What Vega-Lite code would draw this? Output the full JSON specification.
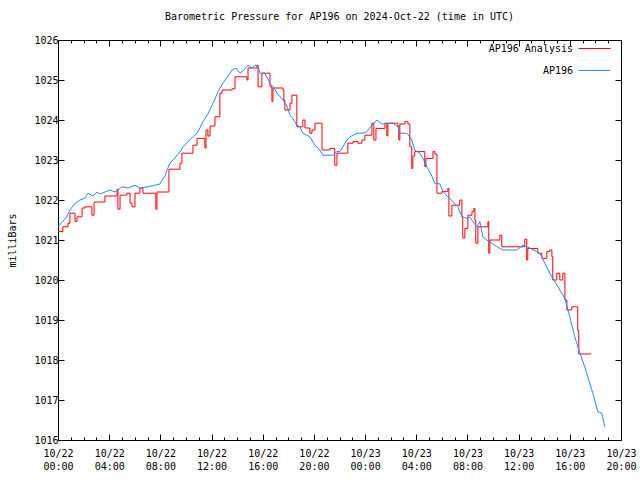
{
  "$schema": "https://vega.github.io/schema/vega-lite/v6.json",
  "width": 563,
  "height": 400,
  "autosize": {"type": "none"},
  "padding": {"left": 58, "top": 40, "right": 19, "bottom": 40},
  "background": "white",
  "title": {"text": "Barometric Pressure for AP196 on 2024-Oct-22 (time in UTC)", "font": "DejaVu Sans Mono", "fontSize": 10, "fontWeight": "normal", "color": "black", "anchor": "middle", "offset": 10},
  "datasets": {
    "analysis": [
      {"t": "2024-10-22T00:00:00Z", "mb": 1021.21},
      {"t": "2024-10-22T00:23:00Z", "mb": 1021.33},
      {"t": "2024-10-22T00:47:00Z", "mb": 1021.42},
      {"t": "2024-10-22T00:56:00Z", "mb": 1021.67},
      {"t": "2024-10-22T01:20:00Z", "mb": 1021.46},
      {"t": "2024-10-22T01:29:00Z", "mb": 1021.58},
      {"t": "2024-10-22T01:53:00Z", "mb": 1021.8},
      {"t": "2024-10-22T02:07:00Z", "mb": 1021.83},
      {"t": "2024-10-22T02:39:00Z", "mb": 1021.62},
      {"t": "2024-10-22T02:49:00Z", "mb": 1021.95},
      {"t": "2024-10-22T03:40:00Z", "mb": 1022.1},
      {"t": "2024-10-22T04:37:00Z", "mb": 1022.27},
      {"t": "2024-10-22T04:41:00Z", "mb": 1021.77},
      {"t": "2024-10-22T04:51:00Z", "mb": 1022.12},
      {"t": "2024-10-22T05:23:00Z", "mb": 1022.17},
      {"t": "2024-10-22T05:38:00Z", "mb": 1021.92},
      {"t": "2024-10-22T05:47:00Z", "mb": 1021.83},
      {"t": "2024-10-22T06:01:00Z", "mb": 1022.17},
      {"t": "2024-10-22T06:24:00Z", "mb": 1022.3},
      {"t": "2024-10-22T06:38:00Z", "mb": 1022.17},
      {"t": "2024-10-22T07:39:00Z", "mb": 1021.77},
      {"t": "2024-10-22T07:44:00Z", "mb": 1022.2},
      {"t": "2024-10-22T08:40:00Z", "mb": 1022.77},
      {"t": "2024-10-22T09:32:00Z", "mb": 1022.92},
      {"t": "2024-10-22T09:41:00Z", "mb": 1023.17},
      {"t": "2024-10-22T10:33:00Z", "mb": 1023.37},
      {"t": "2024-10-22T10:52:00Z", "mb": 1023.54},
      {"t": "2024-10-22T11:29:00Z", "mb": 1023.3},
      {"t": "2024-10-22T11:34:00Z", "mb": 1023.75},
      {"t": "2024-10-22T11:43:00Z", "mb": 1023.6},
      {"t": "2024-10-22T11:53:00Z", "mb": 1023.85},
      {"t": "2024-10-22T12:16:00Z", "mb": 1024.08},
      {"t": "2024-10-22T12:39:00Z", "mb": 1024.67},
      {"t": "2024-10-22T12:49:00Z", "mb": 1024.75},
      {"t": "2024-10-22T13:36:00Z", "mb": 1024.78},
      {"t": "2024-10-22T13:50:00Z", "mb": 1025.08},
      {"t": "2024-10-22T14:46:00Z", "mb": 1025.0},
      {"t": "2024-10-22T14:51:00Z", "mb": 1025.3},
      {"t": "2024-10-22T15:33:00Z", "mb": 1025.37},
      {"t": "2024-10-22T15:38:00Z", "mb": 1024.83},
      {"t": "2024-10-22T15:56:00Z", "mb": 1025.17},
      {"t": "2024-10-22T16:34:00Z", "mb": 1024.83},
      {"t": "2024-10-22T16:43:00Z", "mb": 1024.46},
      {"t": "2024-10-22T16:48:00Z", "mb": 1024.8},
      {"t": "2024-10-22T17:35:00Z", "mb": 1024.75},
      {"t": "2024-10-22T17:39:00Z", "mb": 1024.5},
      {"t": "2024-10-22T17:44:00Z", "mb": 1024.25},
      {"t": "2024-10-22T18:08:00Z", "mb": 1024.42},
      {"t": "2024-10-22T18:17:00Z", "mb": 1024.62},
      {"t": "2024-10-22T18:40:00Z", "mb": 1023.83},
      {"t": "2024-10-22T19:08:00Z", "mb": 1024.0},
      {"t": "2024-10-22T19:18:00Z", "mb": 1023.8},
      {"t": "2024-10-22T19:41:00Z", "mb": 1023.67},
      {"t": "2024-10-22T19:51:00Z", "mb": 1023.75},
      {"t": "2024-10-22T20:05:00Z", "mb": 1023.92},
      {"t": "2024-10-22T20:38:00Z", "mb": 1023.25},
      {"t": "2024-10-22T21:15:00Z", "mb": 1023.29},
      {"t": "2024-10-22T21:38:00Z", "mb": 1022.87},
      {"t": "2024-10-22T21:48:00Z", "mb": 1023.17},
      {"t": "2024-10-22T22:39:00Z", "mb": 1023.42},
      {"t": "2024-10-22T23:03:00Z", "mb": 1023.46},
      {"t": "2024-10-22T23:26:00Z", "mb": 1023.42},
      {"t": "2024-10-22T23:45:00Z", "mb": 1023.5},
      {"t": "2024-10-22T23:59:00Z", "mb": 1023.62},
      {"t": "2024-10-23T00:32:00Z", "mb": 1023.92},
      {"t": "2024-10-23T00:41:00Z", "mb": 1023.5},
      {"t": "2024-10-23T00:51:00Z", "mb": 1023.79},
      {"t": "2024-10-23T01:33:00Z", "mb": 1023.92},
      {"t": "2024-10-23T01:42:00Z", "mb": 1023.6},
      {"t": "2024-10-23T01:47:00Z", "mb": 1023.92},
      {"t": "2024-10-23T02:34:00Z", "mb": 1023.85},
      {"t": "2024-10-23T02:38:00Z", "mb": 1023.5},
      {"t": "2024-10-23T02:43:00Z", "mb": 1023.9},
      {"t": "2024-10-23T03:07:00Z", "mb": 1023.96},
      {"t": "2024-10-23T03:21:00Z", "mb": 1023.9},
      {"t": "2024-10-23T03:30:00Z", "mb": 1023.33},
      {"t": "2024-10-23T03:39:00Z", "mb": 1022.79},
      {"t": "2024-10-23T03:44:00Z", "mb": 1023.1},
      {"t": "2024-10-23T03:53:00Z", "mb": 1023.21},
      {"t": "2024-10-23T04:40:00Z", "mb": 1022.83},
      {"t": "2024-10-23T04:45:00Z", "mb": 1023.04},
      {"t": "2024-10-23T05:18:00Z", "mb": 1023.21},
      {"t": "2024-10-23T05:27:00Z", "mb": 1023.15},
      {"t": "2024-10-23T05:37:00Z", "mb": 1022.17},
      {"t": "2024-10-23T06:00:00Z", "mb": 1022.21},
      {"t": "2024-10-23T06:28:00Z", "mb": 1022.29},
      {"t": "2024-10-23T06:33:00Z", "mb": 1021.6},
      {"t": "2024-10-23T06:47:00Z", "mb": 1021.87},
      {"t": "2024-10-23T07:24:00Z", "mb": 1022.0},
      {"t": "2024-10-23T07:34:00Z", "mb": 1021.58},
      {"t": "2024-10-23T07:38:00Z", "mb": 1021.05},
      {"t": "2024-10-23T07:48:00Z", "mb": 1021.29},
      {"t": "2024-10-23T08:02:00Z", "mb": 1021.62},
      {"t": "2024-10-23T08:21:00Z", "mb": 1021.71},
      {"t": "2024-10-23T08:30:00Z", "mb": 1021.79},
      {"t": "2024-10-23T08:35:00Z", "mb": 1021.5},
      {"t": "2024-10-23T08:39:00Z", "mb": 1020.92},
      {"t": "2024-10-23T08:49:00Z", "mb": 1021.33},
      {"t": "2024-10-23T09:36:00Z", "mb": 1021.46},
      {"t": "2024-10-23T09:40:00Z", "mb": 1020.67},
      {"t": "2024-10-23T09:45:00Z", "mb": 1021.0},
      {"t": "2024-10-23T10:32:00Z", "mb": 1021.12},
      {"t": "2024-10-23T10:41:00Z", "mb": 1020.83},
      {"t": "2024-10-23T12:29:00Z", "mb": 1021.02},
      {"t": "2024-10-23T12:38:00Z", "mb": 1020.5},
      {"t": "2024-10-23T12:43:00Z", "mb": 1020.79},
      {"t": "2024-10-23T13:30:00Z", "mb": 1020.67},
      {"t": "2024-10-23T13:49:00Z", "mb": 1020.54},
      {"t": "2024-10-23T14:12:00Z", "mb": 1020.71},
      {"t": "2024-10-23T14:26:00Z", "mb": 1020.75},
      {"t": "2024-10-23T14:36:00Z", "mb": 1020.58},
      {"t": "2024-10-23T14:40:00Z", "mb": 1020.0},
      {"t": "2024-10-23T14:59:00Z", "mb": 1020.17},
      {"t": "2024-10-23T15:13:00Z", "mb": 1020.0},
      {"t": "2024-10-23T15:27:00Z", "mb": 1020.17},
      {"t": "2024-10-23T15:37:00Z", "mb": 1019.5},
      {"t": "2024-10-23T15:46:00Z", "mb": 1019.25},
      {"t": "2024-10-23T16:09:00Z", "mb": 1019.33},
      {"t": "2024-10-23T16:37:00Z", "mb": 1018.75},
      {"t": "2024-10-23T16:42:00Z", "mb": 1018.15},
      {"t": "2024-10-23T17:38:00Z", "mb": 1018.17}
    ],
    "obs": [
      {"t": "2024-10-22T00:00:00Z", "mb": 1021.33},
      {"t": "2024-10-22T00:19:00Z", "mb": 1021.45},
      {"t": "2024-10-22T00:38:00Z", "mb": 1021.55},
      {"t": "2024-10-22T00:56:00Z", "mb": 1021.75},
      {"t": "2024-10-22T01:20:00Z", "mb": 1021.92},
      {"t": "2024-10-22T01:43:00Z", "mb": 1022.0},
      {"t": "2024-10-22T02:07:00Z", "mb": 1022.05},
      {"t": "2024-10-22T02:21:00Z", "mb": 1022.17},
      {"t": "2024-10-22T02:44:00Z", "mb": 1022.1},
      {"t": "2024-10-22T03:03:00Z", "mb": 1022.2},
      {"t": "2024-10-22T03:17:00Z", "mb": 1022.15},
      {"t": "2024-10-22T03:40:00Z", "mb": 1022.2},
      {"t": "2024-10-22T04:04:00Z", "mb": 1022.25},
      {"t": "2024-10-22T04:27:00Z", "mb": 1022.2},
      {"t": "2024-10-22T05:00:00Z", "mb": 1022.33},
      {"t": "2024-10-22T05:28:00Z", "mb": 1022.3},
      {"t": "2024-10-22T06:01:00Z", "mb": 1022.37},
      {"t": "2024-10-22T06:24:00Z", "mb": 1022.3},
      {"t": "2024-10-22T07:02:00Z", "mb": 1022.33},
      {"t": "2024-10-22T07:35:00Z", "mb": 1022.37},
      {"t": "2024-10-22T07:58:00Z", "mb": 1022.4},
      {"t": "2024-10-22T08:08:00Z", "mb": 1022.5},
      {"t": "2024-10-22T08:22:00Z", "mb": 1022.6},
      {"t": "2024-10-22T08:31:00Z", "mb": 1022.75},
      {"t": "2024-10-22T08:45:00Z", "mb": 1022.92},
      {"t": "2024-10-22T09:08:00Z", "mb": 1023.05},
      {"t": "2024-10-22T09:32:00Z", "mb": 1023.2},
      {"t": "2024-10-22T09:46:00Z", "mb": 1023.33},
      {"t": "2024-10-22T10:09:00Z", "mb": 1023.45},
      {"t": "2024-10-22T10:33:00Z", "mb": 1023.58},
      {"t": "2024-10-22T10:56:00Z", "mb": 1023.7},
      {"t": "2024-10-22T11:20:00Z", "mb": 1023.96},
      {"t": "2024-10-22T11:43:00Z", "mb": 1024.15},
      {"t": "2024-10-22T12:07:00Z", "mb": 1024.42},
      {"t": "2024-10-22T12:30:00Z", "mb": 1024.7},
      {"t": "2024-10-22T12:53:00Z", "mb": 1024.92},
      {"t": "2024-10-22T13:17:00Z", "mb": 1025.1},
      {"t": "2024-10-22T13:36:00Z", "mb": 1025.25},
      {"t": "2024-10-22T13:54:00Z", "mb": 1025.3},
      {"t": "2024-10-22T14:13:00Z", "mb": 1025.17},
      {"t": "2024-10-22T14:32:00Z", "mb": 1025.25},
      {"t": "2024-10-22T14:51:00Z", "mb": 1025.37},
      {"t": "2024-10-22T15:09:00Z", "mb": 1025.3},
      {"t": "2024-10-22T15:23:00Z", "mb": 1025.37},
      {"t": "2024-10-22T15:38:00Z", "mb": 1025.35},
      {"t": "2024-10-22T15:47:00Z", "mb": 1025.17},
      {"t": "2024-10-22T16:10:00Z", "mb": 1025.17},
      {"t": "2024-10-22T16:34:00Z", "mb": 1024.92},
      {"t": "2024-10-22T16:53:00Z", "mb": 1024.8},
      {"t": "2024-10-22T17:07:00Z", "mb": 1024.67},
      {"t": "2024-10-22T17:35:00Z", "mb": 1024.5},
      {"t": "2024-10-22T17:53:00Z", "mb": 1024.35},
      {"t": "2024-10-22T18:08:00Z", "mb": 1024.12},
      {"t": "2024-10-22T18:26:00Z", "mb": 1024.0},
      {"t": "2024-10-22T18:40:00Z", "mb": 1023.87},
      {"t": "2024-10-22T18:54:00Z", "mb": 1023.83},
      {"t": "2024-10-22T19:08:00Z", "mb": 1023.67},
      {"t": "2024-10-22T19:41:00Z", "mb": 1023.58},
      {"t": "2024-10-22T20:05:00Z", "mb": 1023.37},
      {"t": "2024-10-22T20:28:00Z", "mb": 1023.25},
      {"t": "2024-10-22T20:42:00Z", "mb": 1023.12},
      {"t": "2024-10-22T21:06:00Z", "mb": 1023.12},
      {"t": "2024-10-22T21:29:00Z", "mb": 1023.12},
      {"t": "2024-10-22T21:48:00Z", "mb": 1023.21},
      {"t": "2024-10-22T22:02:00Z", "mb": 1023.21},
      {"t": "2024-10-22T22:16:00Z", "mb": 1023.33},
      {"t": "2024-10-22T22:35:00Z", "mb": 1023.5},
      {"t": "2024-10-22T22:49:00Z", "mb": 1023.58},
      {"t": "2024-10-22T23:22:00Z", "mb": 1023.67},
      {"t": "2024-10-22T23:50:00Z", "mb": 1023.67},
      {"t": "2024-10-23T00:08:00Z", "mb": 1023.71},
      {"t": "2024-10-23T00:32:00Z", "mb": 1023.87},
      {"t": "2024-10-23T00:55:00Z", "mb": 1024.0},
      {"t": "2024-10-23T01:19:00Z", "mb": 1023.9},
      {"t": "2024-10-23T01:42:00Z", "mb": 1023.92},
      {"t": "2024-10-23T02:10:00Z", "mb": 1023.92},
      {"t": "2024-10-23T02:34:00Z", "mb": 1023.83},
      {"t": "2024-10-23T02:43:00Z", "mb": 1023.67},
      {"t": "2024-10-23T03:16:00Z", "mb": 1023.67},
      {"t": "2024-10-23T03:39:00Z", "mb": 1023.5},
      {"t": "2024-10-23T03:53:00Z", "mb": 1023.25},
      {"t": "2024-10-23T04:17:00Z", "mb": 1023.17},
      {"t": "2024-10-23T04:31:00Z", "mb": 1023.04},
      {"t": "2024-10-23T04:50:00Z", "mb": 1022.83},
      {"t": "2024-10-23T05:13:00Z", "mb": 1022.6},
      {"t": "2024-10-23T05:27:00Z", "mb": 1022.42},
      {"t": "2024-10-23T05:51:00Z", "mb": 1022.4},
      {"t": "2024-10-23T06:05:00Z", "mb": 1022.21},
      {"t": "2024-10-23T06:28:00Z", "mb": 1022.08},
      {"t": "2024-10-23T06:52:00Z", "mb": 1021.96},
      {"t": "2024-10-23T07:15:00Z", "mb": 1021.83},
      {"t": "2024-10-23T07:34:00Z", "mb": 1021.58},
      {"t": "2024-10-23T07:57:00Z", "mb": 1021.54},
      {"t": "2024-10-23T08:11:00Z", "mb": 1021.58},
      {"t": "2024-10-23T08:25:00Z", "mb": 1021.46},
      {"t": "2024-10-23T08:44:00Z", "mb": 1021.33},
      {"t": "2024-10-23T08:58:00Z", "mb": 1021.46},
      {"t": "2024-10-23T09:12:00Z", "mb": 1021.08},
      {"t": "2024-10-23T09:31:00Z", "mb": 1021.0},
      {"t": "2024-10-23T09:54:00Z", "mb": 1020.92},
      {"t": "2024-10-23T10:18:00Z", "mb": 1020.83},
      {"t": "2024-10-23T10:46:00Z", "mb": 1020.75},
      {"t": "2024-10-23T11:19:00Z", "mb": 1020.75},
      {"t": "2024-10-23T11:52:00Z", "mb": 1020.75},
      {"t": "2024-10-23T12:20:00Z", "mb": 1020.87},
      {"t": "2024-10-23T12:52:00Z", "mb": 1020.8},
      {"t": "2024-10-23T13:25:00Z", "mb": 1020.71},
      {"t": "2024-10-23T13:39:00Z", "mb": 1020.67},
      {"t": "2024-10-23T14:03:00Z", "mb": 1020.42},
      {"t": "2024-10-23T14:26:00Z", "mb": 1020.17},
      {"t": "2024-10-23T14:50:00Z", "mb": 1019.96},
      {"t": "2024-10-23T15:13:00Z", "mb": 1019.75},
      {"t": "2024-10-23T15:37:00Z", "mb": 1019.54},
      {"t": "2024-10-23T16:00:00Z", "mb": 1019.08},
      {"t": "2024-10-23T16:23:00Z", "mb": 1018.58},
      {"t": "2024-10-23T16:47:00Z", "mb": 1018.17},
      {"t": "2024-10-23T17:10:00Z", "mb": 1017.83},
      {"t": "2024-10-23T17:24:00Z", "mb": 1017.58},
      {"t": "2024-10-23T17:48:00Z", "mb": 1017.17},
      {"t": "2024-10-23T18:11:00Z", "mb": 1016.71},
      {"t": "2024-10-23T18:30:00Z", "mb": 1016.67},
      {"t": "2024-10-23T18:44:00Z", "mb": 1016.33}
    ]
  },
  "layer": [
    {
      "data": {"name": "analysis"},
      "mark": {"type": "line", "interpolate": "step-after", "strokeWidth": 1, "clip": true},
      "encoding": {
        "x": {"field": "t", "type": "temporal",
          "scale": {"domain": [1729555200000, 1729713600000], "nice": false},
          "axis": {"orient": "top", "title": null, "labels": false,
            "values": [1729555200000, 1729569600000, 1729584000000, 1729598400000, 1729612800000, 1729627200000, 1729641600000, 1729656000000, 1729670400000, 1729684800000, 1729699200000, 1729713600000]}},
        "y": {"field": "mb", "type": "quantitative",
          "scale": {"domain": [1016, 1026], "nice": false, "zero": false},
          "axis": {"orient": "right", "title": null, "labels": false, "values": [1016, 1017, 1018, 1019, 1020, 1021, 1022, 1023, 1024, 1025, 1026]}},
        "color": {"datum": "AP196 Analysis", "type": "nominal",
          "scale": {"domain": ["AP196 Analysis", "AP196"], "range": ["#ff0000", "#1e8cff"]},
          "legend": {"title": null}}
      }
    },
    {
      "data": {"name": "obs"},
      "mark": {"type": "line", "strokeWidth": 1, "clip": true},
      "encoding": {
        "x": {"field": "t", "type": "temporal",
          "axis": {"orient": "bottom", "title": null, "format": "%m/%d", "labelPadding": 14, "labelOverlap": false,
            "values": [1729555200000, 1729569600000, 1729584000000, 1729598400000, 1729612800000, 1729627200000, 1729641600000, 1729656000000, 1729670400000, 1729684800000, 1729699200000, 1729713600000]}},
        "y": {"field": "mb", "type": "quantitative",
          "axis": {"orient": "left", "title": "milliBars", "format": "d", "labelPadding": 6, "titlePadding": 16,
            "values": [1016, 1017, 1018, 1019, 1020, 1021, 1022, 1023, 1024, 1025, 1026]}},
        "color": {"datum": "AP196", "type": "nominal"}
      }
    },
    {
      "data": {"name": "obs"},
      "mark": {"type": "line", "strokeOpacity": 0},
      "encoding": {
        "x": {"field": "t", "type": "temporal",
          "axis": {"orient": "bottom", "title": null, "ticks": false, "format": "%H:%M", "labelPadding": 21, "labelOverlap": false,
            "values": [1729555200000, 1729569600000, 1729584000000, 1729598400000, 1729612800000, 1729627200000, 1729641600000, 1729656000000, 1729670400000, 1729684800000, 1729699200000, 1729713600000]}},
        "y": {"field": "mb", "type": "quantitative", "axis": null}
      }
    },
    {
      "data": {"name": "obs"},
      "mark": {"type": "line", "strokeOpacity": 0},
      "encoding": {
        "x": {"field": "t", "type": "temporal",
          "axis": {"orient": "bottom", "title": null, "labels": false, "tickSize": -3,
            "values": [1729555200000, 1729558800000, 1729562400000, 1729566000000, 1729569600000, 1729573200000, 1729576800000, 1729580400000, 1729584000000, 1729587600000, 1729591200000, 1729594800000, 1729598400000, 1729602000000, 1729605600000, 1729609200000, 1729612800000, 1729616400000, 1729620000000, 1729623600000, 1729627200000, 1729630800000, 1729634400000, 1729638000000, 1729641600000, 1729645200000, 1729648800000, 1729652400000, 1729656000000, 1729659600000, 1729663200000, 1729666800000, 1729670400000, 1729674000000, 1729677600000, 1729681200000, 1729684800000, 1729688400000, 1729692000000, 1729695600000, 1729699200000, 1729702800000, 1729706400000, 1729710000000, 1729713600000]}},
        "y": {"field": "mb", "type": "quantitative", "axis": null}
      }
    },
    {
      "data": {"name": "obs"},
      "mark": {"type": "line", "strokeOpacity": 0},
      "encoding": {
        "x": {"field": "t", "type": "temporal",
          "axis": {"orient": "top", "title": null, "labels": false, "tickSize": -3,
            "values": [1729555200000, 1729558800000, 1729562400000, 1729566000000, 1729569600000, 1729573200000, 1729576800000, 1729580400000, 1729584000000, 1729587600000, 1729591200000, 1729594800000, 1729598400000, 1729602000000, 1729605600000, 1729609200000, 1729612800000, 1729616400000, 1729620000000, 1729623600000, 1729627200000, 1729630800000, 1729634400000, 1729638000000, 1729641600000, 1729645200000, 1729648800000, 1729652400000, 1729656000000, 1729659600000, 1729663200000, 1729666800000, 1729670400000, 1729674000000, 1729677600000, 1729681200000, 1729684800000, 1729688400000, 1729692000000, 1729695600000, 1729699200000, 1729702800000, 1729706400000, 1729710000000, 1729713600000]}},
        "y": {"field": "mb", "type": "quantitative", "axis": null}
      }
    }
  ],
  "resolve": {"axis": {"x": "independent", "y": "independent"}},
  "config": {
    "font": "DejaVu Sans Mono",
    "view": {"stroke": "black", "strokeWidth": 1},
    "axis": {"labelFont": "DejaVu Sans Mono", "labelFontSize": 10, "labelColor": "black", "titleFont": "DejaVu Sans Mono", "titleFontSize": 10, "titleFontWeight": "normal", "titleColor": "black", "domain": false, "grid": false, "tickColor": "black", "tickWidth": 1, "tickSize": -6, "labelFlush": false},
    "legend": {"orient": "none", "legendX": 520, "legendY": -8, "padding": 0, "symbolType": "stroke", "symbolSize": 1024, "symbolStrokeWidth": 1, "labelFont": "DejaVu Sans Mono", "labelFontSize": 10, "labelColor": "black", "labelAlign": "right", "labelOffset": -38, "rowPadding": -18}
  }
}
